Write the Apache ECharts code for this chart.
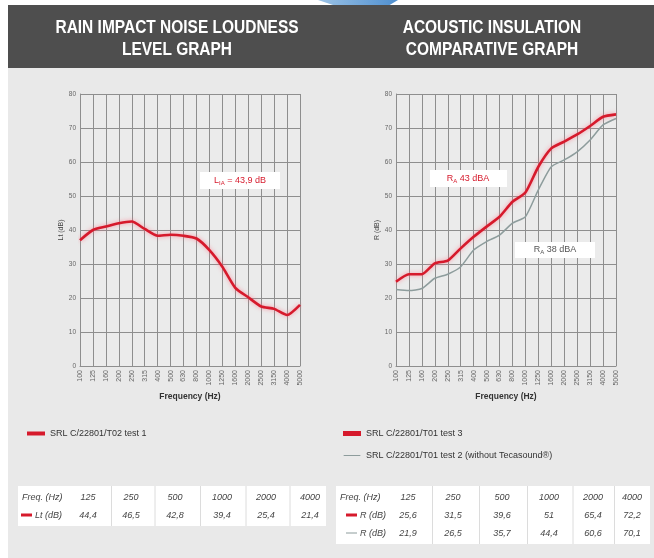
<!DOCTYPE html>
<html><head><meta charset="utf-8">
<script src="https://cdn.jsdelivr.net/npm/echarts@6/dist/echarts.min.js"></script>
<style>html,body{margin:0;padding:0;background:#fff}#c{width:654px;height:558px}</style>
</head><body><div id="c"></div>
<script>
// ---------- data ----------
const freqs = ['100','125','160','200','250','315','400','500','630','800','1000','1250','1600','2000','2500','3150','4000','5000'];
const ltTest1 = [37, 40, 41, 42, 42.5, 40.3, 38.3, 38.6, 38.3, 37.5, 34.1, 29.2, 23, 20.2, 17.5, 16.8, 15, 18];
const rTest3 = [24.8, 27, 27, 30.2, 31, 34.6, 38, 41, 43.9, 48.3, 51, 58.6, 64, 66, 68.1, 70.6, 73.3, 74];
const rTest2 = [22.5, 22.2, 22.8, 25.8, 27, 29.2, 34.1, 36.6, 38.5, 42, 43.9, 51.8, 58.6, 60.6, 63, 66.5, 70.9, 72.8];
const yMin = 0, yMax = 80, yStep = 10;
const tableFreq = ['125','250','500','1000','2000','4000'];
const tableLt = ['44,4','46,5','42,8','39,4','25,4','21,4'];
const tableR3 = ['25,6','31,5','39,6','51','65,4','72,2'];
const tableR2 = ['21,9','26,5','35,7','44,4','60,6','70,1'];
const nameLeft = 'SRL C/22801/T02 test 1';
const nameR3 = 'SRL C/22801/T01 test 3';
const nameR2 = 'SRL C/22801/T01 test 2 (without Tecasound®)';

const FN = '"Liberation Sans Narrow","Liberation Sans",sans-serif';
const RED = '#d61a2c', GRAY = '#8d9c9c', GRID = '#8e8e8e', BG = '#e9e9e9';

const chart = echarts.init(document.getElementById('c'), null, {renderer:'canvas'});

function xAxis(gi){
  return {type:'category', gridIndex:gi, data:freqs, boundaryGap:false,
    axisLine:{show:true, lineStyle:{color:GRID, width:1}}, axisTick:{show:false},
    splitLine:{show:true, lineStyle:{color:GRID, width:1}},
    axisLabel:{rotate:90, fontSize:7, color:'#666', fontFamily:FN, margin:4, interval:0},
    name:'Frequency (Hz)', nameLocation:'middle', nameGap:26,
    nameTextStyle:{fontSize:8.5, fontWeight:'bold', color:'#333', fontFamily:'"Liberation Sans",sans-serif'}};
}
function yAxis(gi, nm){
  return {type:'value', gridIndex:gi, min:yMin, max:yMax, interval:yStep,
    axisLine:{show:true, lineStyle:{color:GRID}}, axisTick:{show:false},
    splitLine:{show:true, lineStyle:{color:GRID, width:1}},
    axisLabel:{fontSize:6.5, color:'#666', fontFamily:FN, margin:4},
    name:nm, nameLocation:'middle', nameGap:14,
    nameTextStyle:{fontSize:7, color:'#444', fontFamily:FN}};
}

function tableGraphics(x0, y0, w, rows, colX, labelX, freqX){
  const els = [];
  const h = rows.length*18+4;
  els.push({type:'rect', shape:{x:x0, y:y0, width:w, height:h}, style:{fill:'#fff'}, z:5});
  colX.forEach((cx,i)=>{
    if(i>0){ const sx = (colX[i-1]+cx)/2 + 2;
      els.push({type:'line', shape:{x1:sx, y1:y0, x2:sx, y2:y0+h}, style:{stroke:'#dcdcdc', lineWidth:1}, z:6}); }
  });
  rows.forEach((r,ri)=>{
    const y = y0 + 11 + ri*18;
    if(r.swatch){
      els.push({type:'line', shape:{x1:labelX-14, y1:y, x2:labelX-3, y2:y}, style:{stroke:r.swatch, lineWidth:r.sw}, z:7});
    }
    els.push({type:'text', x:(ri===0?freqX:labelX), y:y, style:{text:r.label, fill:'#444', font:'italic 9px '+FN, textVerticalAlign:'middle'}, z:7});
    r.vals.forEach((v,i)=>{
      els.push({type:'text', x:colX[i], y:y, style:{text:v, fill:'#444', font:'italic 9px '+FN, textAlign:'center', textVerticalAlign:'middle'}, z:7});
    });
  });
  return els;
}

function title(txt, x, y){
  return {type:'text', x:x, y:y, scaleX:0.86, originX:0, style:{text:txt, fill:'#fff', font:'bold 18px '+FN, textAlign:'center', textVerticalAlign:'middle'}, z:2};
}

const graphics = [
  {type:'rect', shape:{x:0,y:0,width:654,height:5}, style:{fill:'#fff'}, z:1},
  {type:'rect', shape:{x:0,y:0,width:8,height:558}, style:{fill:'#fff'}, z:1},
  {type:'polygon', shape:{points:[[318,0],[398,0],[388,6],[345,9]]},
     style:{fill:new echarts.graphic.LinearGradient(0,0,1,0,[{offset:0,color:'#9cc3e6'},{offset:1,color:'#4f8fcf'}])}, z:1},
  {type:'rect', shape:{x:8,y:5,width:646,height:63}, style:{fill:'#4e4e4e'}, z:1},
  title('RAIN IMPACT NOISE LOUDNESS', 177, 28),
  title('LEVEL GRAPH', 177, 50),
  title('ACOUSTIC INSULATION', 492, 28),
  title('COMPARATIVE GRAPH', 492, 50),
  // annotations
  {type:'rect', shape:{x:200,y:172,width:80,height:17}, style:{fill:'#fff'}, z:8},
  {type:'text', x:240, y:181, style:{text:'{a|L}{s|IA}{a| = 43,9 dB}', textAlign:'center', textVerticalAlign:'middle',
     rich:{a:{fill:RED, fontSize:9, fontFamily:FN}, s:{fill:RED, fontSize:6, fontFamily:FN, padding:[5,0,0,0]}}}, z:9},
  {type:'rect', shape:{x:430,y:170,width:77,height:17}, style:{fill:'#fff'}, z:8},
  {type:'text', x:468, y:179, style:{text:'{a|R}{s|A}{a| 43 dBA}', textAlign:'center', textVerticalAlign:'middle',
     rich:{a:{fill:RED, fontSize:9, fontFamily:FN}, s:{fill:RED, fontSize:6, fontFamily:FN, padding:[5,0,0,0]}}}, z:9},
  {type:'rect', shape:{x:515,y:242,width:80,height:16}, style:{fill:'#fff'}, z:8},
  {type:'text', x:555, y:250, style:{text:'{a|R}{s|A}{a| 38 dBA}', textAlign:'center', textVerticalAlign:'middle',
     rich:{a:{fill:'#555', fontSize:9, fontFamily:FN}, s:{fill:'#555', fontSize:6, fontFamily:FN, padding:[5,0,0,0]}}}, z:9},
].concat(
  tableGraphics(18, 486, 308, [
    {label:'Freq. (Hz)', vals:tableFreq},
    {label:'Lt (dB)', vals:tableLt, swatch:RED, sw:3}
  ], [88,131,175,222,266,310], 35, 22)
).concat(
  tableGraphics(336, 486, 314, [
    {label:'Freq. (Hz)', vals:tableFreq},
    {label:'R (dB)', vals:tableR3, swatch:RED, sw:3},
    {label:'R (dB)', vals:tableR2, swatch:GRAY, sw:1}
  ], [408,453,502,549,593,632], 360, 340)
);

const thinIcon = 'path://M0,0h0.01v6h-0.01zM0,2.5h20v1h-20z';
chart.setOption({
  backgroundColor: BG,
  animation:false,
  grid:[
    {left:80, right:354, top:94, bottom:192, show:true, backgroundColor:'#ebebeb', borderWidth:0},
    {left:396, right:38, top:94, bottom:192, show:true, backgroundColor:'#ebebeb', borderWidth:0}
  ],
  xAxis:[xAxis(0), xAxis(1)],
  yAxis:[yAxis(0,'Lt (dB)'), yAxis(1,'R (dB)')],
  legend:[
    {data:[{name:nameLeft, icon:'rect'}], left:22, top:424, itemWidth:18, itemHeight:4, textStyle:{fontSize:9, color:'#333', fontFamily:FN}},
    {data:[{name:nameR3, icon:'rect'}, {name:nameR2, icon:thinIcon}], left:338, top:424, orient:'vertical', itemGap:13, itemWidth:18, itemHeight:5, textStyle:{fontSize:9, color:'#333', fontFamily:FN}}
  ],
  series:[
    {name:nameLeft, type:'line', xAxisIndex:0, yAxisIndex:0, data:ltTest1, symbol:'none', smooth:0.2,
      lineStyle:{color:RED, width:2.6, shadowColor:'rgba(255,110,130,0.7)', shadowBlur:4}, itemStyle:{color:RED}, z:5},
    {name:nameR2, type:'line', xAxisIndex:1, yAxisIndex:1, data:rTest2, symbol:'none', smooth:0.2,
      lineStyle:{color:GRAY, width:1.5}, itemStyle:{color:GRAY}, z:4},
    {name:nameR3, type:'line', xAxisIndex:1, yAxisIndex:1, data:rTest3, symbol:'none', smooth:0.2,
      lineStyle:{color:RED, width:2.6, shadowColor:'rgba(255,110,130,0.7)', shadowBlur:4}, itemStyle:{color:RED}, z:5}
  ],
  graphic:graphics
});
</script></body></html>
